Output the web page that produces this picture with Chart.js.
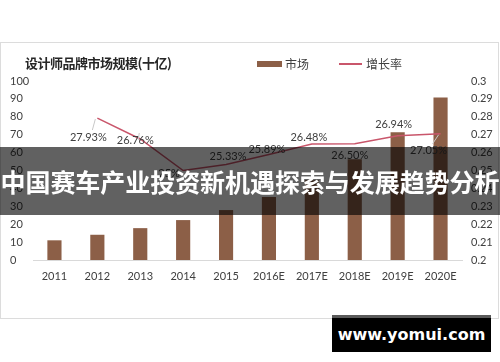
<!DOCTYPE html>
<html>
<head>
<meta charset="utf-8">
<script src="https://cdn.jsdelivr.net/npm/chart.js@4.4.1/dist/chart.umd.min.js"></script>
<style>
html,body{margin:0;padding:0;background:#fff;}
#wrap{position:relative;width:500px;height:362px;overflow:hidden;font-family:"Noto Sans CJK SC",sans-serif;}
#frame{position:absolute;left:0;top:42px;width:497px;height:275px;border:1px solid #dcdcdc;}
#c{position:absolute;left:0;top:0;}
#title{position:absolute;left:25px;top:53px;font-size:13px;font-weight:bold;color:#262626;letter-spacing:-0.5px;}
#legend{position:absolute;left:257px;top:55px;font-size:12px;color:#404040;}
#legend span{position:absolute;white-space:nowrap;}
#banner{position:absolute;left:0;top:147px;width:500px;height:68px;background:rgba(0,0,0,0.62);color:#fff;font-weight:bold;font-size:25px;line-height:68px;text-align:center;letter-spacing:-0.05px;white-space:nowrap;}
#mark{position:absolute;left:332px;top:315px;width:159px;height:34px;background:#000;border-top:3px solid #5a5a5a;color:#fff;font-family:"DejaVu Sans",sans-serif;font-weight:bold;font-size:16px;line-height:34px;text-align:center;}
</style>
</head>
<body>
<div id="wrap">
<div id="frame"></div>
<canvas id="c" width="500" height="362"></canvas>
<div id="title">设计师品牌市场规模(十亿)</div>
<div id="legend">
<span style="left:0;top:6px;width:25px;height:6px;background:#8c5f47;"></span>
<span style="left:28px;top:0;">市场</span>
<span style="left:82px;top:8px;width:23px;height:1.5px;background:#c9566b;"></span>
<span style="left:109px;top:0;">增长率</span>
</div>
<div id="banner">中国赛车产业投资新机遇探索与发展趋势分析</div>
<div id="mark">www.yomui.com</div>
</div>
<script>
const years = ["2011","2012","2013","2014","2015","2016E","2017E","2018E","2019E","2020E"];
const market = [11, 14.1, 17.8, 22.3, 27.9, 35.2, 44.5, 56.3, 71.4, 90.8];
const growth = [null, 0.2793, 0.2676, 0.25, 0.2533, 0.2589, 0.2648, 0.2650, 0.2694, 0.2705];
const growthLabels = ["", "27.93%", "26.76%", "25%", "25.33%", "25.89%", "26.48%", "26.50%", "26.94%", "27.05%"];

// label offsets from each point (dx, dy), plus optional leader line
const labelPos = [null, [-9,19,true], [-5,1,true], [-14,3,false], [2,-8,false], [-2,-5,false], [-3,-7,false], [-5,12,false], [-4,-11,false], [-12,17,true]];

const lineLabels = {
  id: "lineLabels",
  afterDatasetsDraw(chart){
    const ctx = chart.ctx;
    const meta = chart.getDatasetMeta(1);
    ctx.save();
    ctx.font = "11px Lato, 'DejaVu Sans', sans-serif";
    ctx.textAlign = "center";
    ctx.textBaseline = "middle";
    meta.data.forEach((pt, i) => {
      if (!growthLabels[i]) return;
      const p = labelPos[i];
      const x = pt.x + p[0], y = pt.y + p[1];
      if (p[2]) {
        ctx.strokeStyle = "#c8c8c8";
        ctx.lineWidth = 1;
        ctx.beginPath();
        ctx.moveTo(x + (p[0] < 0 ? 4 : 0), y - 7);
        ctx.lineTo(pt.x - 2, pt.y + 1);
        ctx.stroke();
      }
      ctx.fillStyle = "#404040";
      ctx.fillText(growthLabels[i], x, y);
    });
    ctx.restore();
  }
};

new Chart(document.getElementById("c"), {
  data: {
    labels: years,
    datasets: [
      {
        type: "bar",
        label: "市场",
        data: market,
        backgroundColor: "#8c5f47",
        yAxisID: "y",
        categoryPercentage: 1,
        barPercentage: 0.33,
        order: 2
      },
      {
        type: "line",
        label: "增长率",
        data: growth,
        borderColor: "#c9566b",
        borderWidth: 1.5,
        pointRadius: 0,
        tension: 0,
        fill: false,
        yAxisID: "y1",
        order: 1
      }
    ]
  },
  options: {
    responsive: false,
    animation: false,
    layout: { padding: { left: 10, right: 0, top: 81, bottom: 77 } },
    plugins: { legend: { display: false }, title: { display: false }, tooltip: { enabled: false } },
    scales: {
      x: {
        grid: { display: false, drawTicks: false },
        border: { display: true, color: "#d9d9d9" },
        ticks: { color: "#404040", font: { family: "Lato", size: 11 }, padding: 10, maxRotation: 0 },
        afterFit(s){ s.height = 25; }
      },
      y: {
        position: "left",
        min: 0, max: 100,
        grid: { display: false, drawTicks: false },
        border: { display: false },
        ticks: { stepSize: 10, color: "#404040", font: { family: "Lato", size: 11 }, crossAlign: "far", padding: 4 },
        afterFit(s){ s.width = 23; }
      },
      y1: {
        position: "right",
        min: 0.2, max: 0.3,
        grid: { display: false, drawTicks: false },
        border: { display: false },
        ticks: { stepSize: 0.01, color: "#404040", font: { family: "Lato", size: 11 }, padding: 9,
          callback: v => String(Math.round(v * 100) / 100) },
        afterFit(s){ s.width = 38; }
      }
    }
  },
  plugins: [lineLabels]
});
</script>
</body>
</html>
